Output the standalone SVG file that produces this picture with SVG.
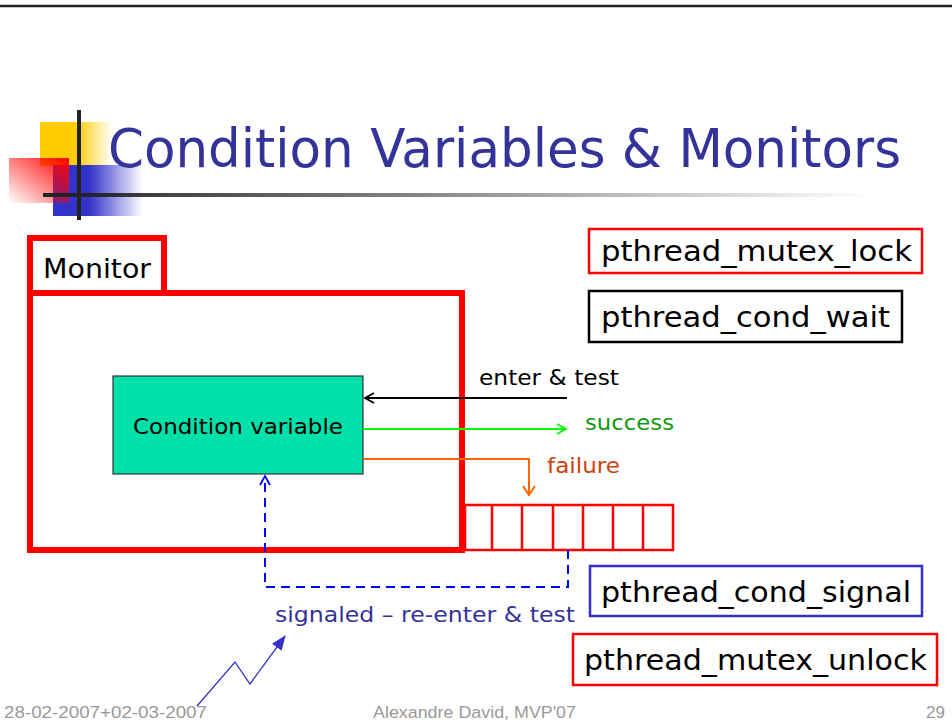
<svg xmlns="http://www.w3.org/2000/svg" width="952" height="724" viewBox="0 0 952 724">
<style>
.t{font-family:"DejaVu Sans","Liberation Sans",sans-serif;}
.code{font-family:"DejaVu Sans","Liberation Sans",sans-serif;font-size:29px;fill:#000;}
.cbox{fill:#fff;stroke-width:2.5;}
.foot{font-family:"Liberation Sans",sans-serif;font-size:17px;fill:#999;}
</style>
<defs>
<linearGradient id="gy" x1="0" x2="1" y1="0" y2="0"><stop offset="0.5" stop-color="#FFCC00"/><stop offset="1" stop-color="#FFCC00" stop-opacity="0"/></linearGradient>
<linearGradient id="gb" x1="0" x2="1" y1="0" y2="0"><stop offset="0.4" stop-color="#3333CC"/><stop offset="1" stop-color="#3333CC" stop-opacity="0"/></linearGradient>
<linearGradient id="gr" x1="1" y1="0" x2="0" y2="1"><stop offset="0" stop-color="#FF0000"/><stop offset="1" stop-color="#FF0000" stop-opacity="0"/></linearGradient>
<linearGradient id="gl" x1="0" x2="1" y1="0" y2="0"><stop offset="0" stop-color="#222"/><stop offset="1" stop-color="#222" stop-opacity="0"/></linearGradient>
<marker id="ab" markerWidth="12" markerHeight="12" refX="10" refY="6" orient="auto" markerUnits="userSpaceOnUse"><path d="M1,1 L10,6 L1,11" fill="none" stroke="#000" stroke-width="1.8"/></marker>
<marker id="ag" markerWidth="12" markerHeight="12" refX="10" refY="6" orient="auto" markerUnits="userSpaceOnUse"><path d="M1,1 L10,6 L1,11" fill="none" stroke="#00FF00" stroke-width="1.8"/></marker>
<marker id="ao" markerWidth="14" markerHeight="14" refX="11" refY="7" orient="auto" markerUnits="userSpaceOnUse"><path d="M0,7 L11,7 M2,1 L11,7 L2,13" fill="none" stroke="#FF6600" stroke-width="2"/></marker>
<marker id="abl" markerWidth="12" markerHeight="12" refX="10" refY="6" orient="auto" markerUnits="userSpaceOnUse"><path d="M1,1 L10,6 L1,11" fill="none" stroke="#0000FF" stroke-width="1.8"/></marker>
<marker id="az" markerWidth="16" markerHeight="14" refX="14" refY="7" orient="auto" markerUnits="userSpaceOnUse"><path d="M0,1 L15,7 L0,13 Z" fill="#3333CC"/></marker>
</defs>
<rect width="952" height="724" fill="#fff"/>
<line x1="0" y1="6" x2="952" y2="6" stroke="#222" stroke-width="2.5"/>
<g id="logo">
<rect x="40" y="122" width="72" height="44" fill="url(#gy)"/>
<rect x="53" y="165" width="90" height="51" fill="url(#gb)"/>
<rect x="9" y="158" width="60" height="45" fill="url(#gr)"/>
<rect x="77" y="110" width="4" height="110" fill="#222"/>
<rect x="43" y="193" width="830" height="4" fill="url(#gl)"/>
</g>
<g id="title"><text class="t" x="108" y="167" font-size="54" fill="#333399" textLength="793" lengthAdjust="spacingAndGlyphs">Condition Variables &amp; Monitors</text></g>
<g id="monitor">
<rect x="30" y="238" width="134" height="55" fill="#fff" stroke="#FF0000" stroke-width="6"/>
<rect x="30" y="293" width="432" height="257" fill="none" stroke="#FF0000" stroke-width="6"/>
<text class="t" x="43" y="278" font-size="27" fill="#000" textLength="108" lengthAdjust="spacingAndGlyphs">Monitor</text>
</g>
<g id="queue" fill="none" stroke="#FF0000" stroke-width="2.5">
<rect x="465" y="505" width="208" height="45"/>
<path d="M492,505 V550 M522,505 V550 M553,505 V550 M583,505 V550 M613,505 V550 M643,505 V550"/>
</g>
<g id="condvar">
<rect x="113" y="376" width="250" height="98" fill="#00E0A8" stroke="#333" stroke-width="1.2"/>
<text class="t" x="238" y="434" font-size="22" fill="#000" text-anchor="middle" textLength="210" lengthAdjust="spacingAndGlyphs">Condition variable</text>
</g>
<g id="connectors" fill="none">
<line x1="567" y1="398" x2="365" y2="398" stroke="#000" stroke-width="2" marker-end="url(#ab)"/>
<line x1="363" y1="429" x2="566" y2="429" stroke="#00FF00" stroke-width="2" marker-end="url(#ag)"/>
<polyline points="363,459 529,459 529,495" stroke="#FF6600" stroke-width="2" marker-end="url(#ao)"/>
<polyline points="568,550 568,587 265,587 265,476" stroke="#0000FF" stroke-width="2" stroke-dasharray="9,6" marker-end="url(#abl)"/>
<polyline points="197,706 235,662 250,684 285,636" stroke="#3333CC" stroke-width="1.3" marker-end="url(#az)"/>
</g>
<g id="labels" class="t" font-size="21">
<text x="479" y="385" fill="#000" textLength="140" lengthAdjust="spacingAndGlyphs">enter &amp; test</text>
<text x="585" y="430" fill="#119911" textLength="89" lengthAdjust="spacingAndGlyphs">success</text>
<text x="547" y="473" fill="#CC4411" textLength="73" lengthAdjust="spacingAndGlyphs">failure</text>
<text x="275" y="622" fill="#333399" textLength="300" lengthAdjust="spacingAndGlyphs">signaled – re-enter &amp; test</text>
</g>
<g id="mutex_lock">
<rect class="cbox" x="589" y="229" width="333" height="44" stroke="#FF0000"/>
<text class="code" x="601" y="261" textLength="311" lengthAdjust="spacingAndGlyphs">pthread_mutex_lock</text>
</g>
<g id="cond_wait">
<rect class="cbox" x="589" y="291" width="313" height="51" stroke="#000"/>
<text class="code" x="601" y="327" textLength="289" lengthAdjust="spacingAndGlyphs">pthread_cond_wait</text>
</g>
<g id="cond_signal">
<rect class="cbox" x="590" y="566" width="332" height="50" stroke="#3333CC"/>
<text class="code" x="601" y="602" textLength="310" lengthAdjust="spacingAndGlyphs">pthread_cond_signal</text>
</g>
<g id="mutex_unlock">
<rect class="cbox" x="573" y="634" width="364" height="51" stroke="#FF0000"/>
<text class="code" x="584" y="670" textLength="343" lengthAdjust="spacingAndGlyphs">pthread_mutex_unlock</text>
</g>
<g id="footer">
<text class="foot" x="4" y="718" textLength="203" lengthAdjust="spacingAndGlyphs">28-02-2007+02-03-2007</text>
<text class="foot" x="373" y="718" textLength="203" lengthAdjust="spacingAndGlyphs">Alexandre David, MVP'07</text>
<text class="foot" x="945" y="718" text-anchor="end">29</text>
</g>
</svg>
